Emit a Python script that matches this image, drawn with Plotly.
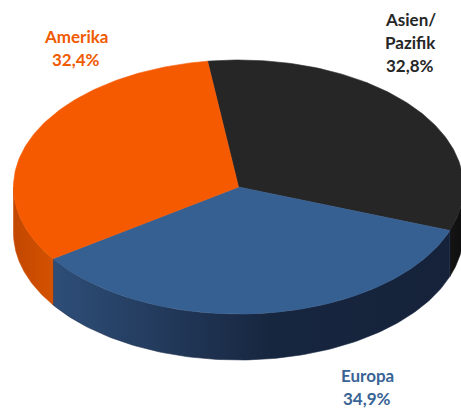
import numpy as np
import plotly.graph_objects as go

# ---- data ----
categories = ["Asien/\nPazifik", "Europa", "Amerika"]
values = [32.8, 34.9, 32.4]

# ---- style ----
top_colors = ["#262626", "#376092", "#F55A00"]
side_scales = [
    [[0, "#141414"], [1, "#0E0E0E"]],
    [[0, "#2E4E78"], [0.55, "#17263F"], [1, "#15223A"]],
    [[0, "#C24700"], [1, "#D45200"]],
]
side_lines = ["#111111", "#1C2E4A", "#CC4C00"]
label_colors = ["#262626", "#3A6496", "#F05A00"]
label_pos = [(410, [19.5, 42.5, 65]), (367, [375, 398.5]), (76, [36.5, 59.5])]

CX, CY, RX, RY, DEPTH = 238.5, 187.0, 225.0, 127.0, 46.0
START = 97.9  # degrees, slices run clockwise


def arc(a_from, a_to, n=120, dy=0.0):
    t = np.radians(np.linspace(a_from, a_to, n))
    return CX + RX * np.cos(t), CY - RY * np.sin(t) + dy


fig = go.Figure()
total = sum(values)
bounds = []
a = START
for v in values:
    sweep = v / total * 360.0
    bounds.append((a, a - sweep))
    a -= sweep

# side walls (front half only)
for i, (a0, a1) in enumerate(bounds):
    for k in (-1, 0, 1):
        lo = max(a1, -180 + 360 * k)
        hi = min(a0, 0 + 360 * k)
        if lo < hi:
            xt, yt = arc(lo, hi)
            xb, yb = arc(hi, lo, dy=DEPTH)
            fig.add_trace(go.Scatter(
                x=np.concatenate([xt, xb, xt[:1]]),
                y=np.concatenate([yt, yb, yt[:1]]),
                mode="lines", fill="toself",
                fillgradient=dict(type="horizontal", colorscale=side_scales[i]),
                line=dict(width=0.6, color=side_lines[i]),
                hoverinfo="skip", showlegend=False))

# top faces
for i, (a0, a1) in enumerate(bounds):
    xs, ys = arc(a0, a1)
    fig.add_trace(go.Scatter(
        x=np.concatenate([[CX], xs, [CX]]),
        y=np.concatenate([[CY], ys, [CY]]),
        mode="lines", fill="toself", fillcolor=top_colors[i],
        line=dict(width=0.6, color=top_colors[i]),
        hoverinfo="skip", showlegend=False))

# labels
for i, (cat, v) in enumerate(zip(categories, values)):
    lines = cat.split("\n") + [f"{v:.1f}".replace(".", ",") + "%"]
    x, ys = label_pos[i]
    for line, y in zip(lines, ys):
        fig.add_annotation(x=x, y=y, xref="x", yref="y", text=line,
                           showarrow=False, xanchor="center", yanchor="middle",
                           font=dict(family="Lato", size=17, color=label_colors[i],
                                     weight="bold"))

fig.update_layout(
    width=461, height=410,
    margin=dict(l=0, r=0, t=0, b=0),
    paper_bgcolor="white", plot_bgcolor="white",
    xaxis=dict(range=[0, 461], visible=False, fixedrange=True),
    yaxis=dict(range=[410, 0], visible=False, fixedrange=True),
    showlegend=False,
)
fig.write_html("out.html", config={"displayModeBar": False},
               post_script="document.body.style.margin='0';document.body.style.overflow='hidden';")
